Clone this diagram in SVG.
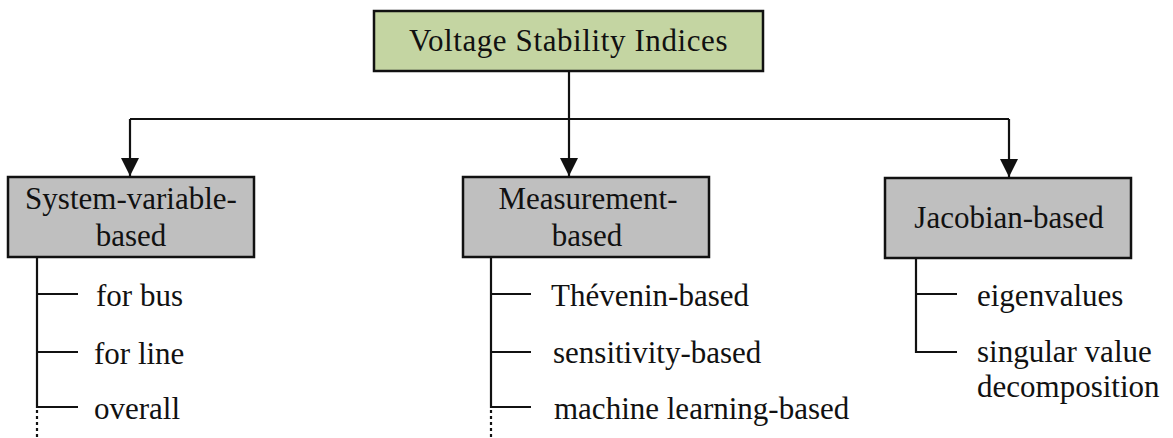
<svg xmlns="http://www.w3.org/2000/svg" width="1173" height="438" viewBox="0 0 1173 438">
<style>
.box{stroke:#111;stroke-width:2.5}
.gray{fill:#bfbfbf}
.green{fill:#c4d5a2}
.ln{stroke:#111;stroke-width:2.2;fill:none}
.dot{stroke:#111;stroke-width:2.2;fill:none;stroke-dasharray:3 3}
.c{text-anchor:middle}
</style>
<defs>
<marker id="arr" markerWidth="18" markerHeight="18" refX="18" refY="9" orient="auto" markerUnits="userSpaceOnUse">
<path d="M0,0 L18,9 L0,18 Z" fill="#111"/>
</marker>
</defs>
<g id="connectors">
<path class="ln" d="M569,71 V119"/>
<path class="ln" d="M130,119 H1009"/>
<path class="ln" d="M130,119 V176" marker-end="url(#arr)"/>
<path class="ln" d="M569,119 V176" marker-end="url(#arr)"/>
<path class="ln" d="M1009,119 V177" marker-end="url(#arr)"/>
<path class="ln" d="M37,257 V408 M37,294 H78 M37,352 H78 M37,407 H78"/>
<path class="dot" d="M37,410 V438"/>
<path class="ln" d="M491,257 V408 M491,294 H531 M491,352 H531 M491,407 H531"/>
<path class="dot" d="M491,410 V438"/>
<path class="ln" d="M916,257 V352 H957 M916,294 H957"/>
</g>
<g font-family="'Liberation Serif', Tinos, 'Times New Roman', serif" font-size="31" fill="#111">
<g id="root">
<rect class="box green" x="374" y="11" width="389" height="60"/>
<text class="c" x="568.5" y="51" letter-spacing="0.6">Voltage Stability Indices</text>
</g>
<g id="system-variable">
<rect class="box gray" x="8" y="177" width="246" height="80"/>
<text class="c" x="131" y="209">System-variable-</text>
<text class="c" x="131" y="246">based</text>
</g>
<g id="measurement">
<rect class="box gray" x="463" y="177" width="246" height="80"/>
<text class="c" x="588" y="209">Measurement-</text>
<text class="c" x="587" y="246">based</text>
</g>
<g id="jacobian">
<rect class="box gray" x="885" y="178" width="246" height="80"/>
<text class="c" x="1009" y="228">Jacobian-based</text>
</g>
<g id="sv-items">
<text x="96" y="306">for bus</text>
<text x="94" y="364">for line</text>
<text x="94" y="419">overall</text>
</g>
<g id="m-items">
<text x="551" y="306">Thévenin-based</text>
<text x="553" y="363">sensitivity-based</text>
<text x="554" y="419">machine learning-based</text>
</g>
<g id="j-items">
<text x="977" y="306">eigenvalues</text>
<text x="977" y="362">singular value</text>
<text x="977" y="397">decomposition</text>
</g>
</g>
</svg>
